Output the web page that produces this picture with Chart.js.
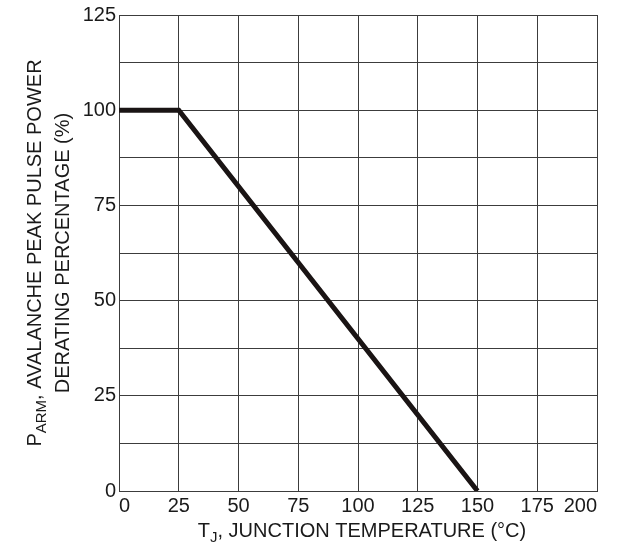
<!DOCTYPE html>
<html>
<head>
<meta charset="utf-8">
<script src="https://cdn.jsdelivr.net/npm/chart.js@4"></script>
<style>
  html, body { margin: 0; padding: 0; background: #fff; }
  #wrap { width: 621px; height: 550px; }
</style>
</head>
<body>
<div id="wrap"><canvas id="derating" width="621" height="550"></canvas></div>
<script>
// Derating curve: junction temperature (°C) vs avalanche peak pulse power (%)
const tempX = [0, 25, 150];
const derating = [100, 100, 0];

const xTicks = [0, 25, 50, 75, 100, 125, 150, 175, 200];
const yLabels = [0, 25, 50, 75, 100, 125];

const FONT = 'Arial, "Liberation Sans", sans-serif';
const GRID = '#3c3c3c';

// draw a run of text pieces, some of them subscripted
function drawRuns(ctx, runs, x, y) {
  let total = 0;
  runs.forEach(r => {
    ctx.font = `${r.size}px ${FONT}`;
    r.w = ctx.measureText(r.text).width;
    total += r.w;
  });
  let cx = x - total / 2;
  runs.forEach(r => {
    ctx.font = `${r.size}px ${FONT}`;
    ctx.fillText(r.text, cx, y + (r.sub ? 5 : 0));
    cx += r.w;
  });
}

const axisTitles = {
  id: 'axisTitles',
  afterDraw(chart) {
    const { ctx, chartArea } = chart;
    ctx.save();
    ctx.fillStyle = '#1a1a1a';
    ctx.textBaseline = 'alphabetic';
    ctx.textAlign = 'left';

    const midX = (chartArea.left + chartArea.right) / 2;
    drawRuns(ctx, [
      { text: 'T', size: 20 },
      { text: 'J', size: 15, sub: true },
      { text: ', JUNCTION TEMPERATURE (°C)', size: 20 }
    ], midX + 4, 537);

    const midY = (chartArea.top + chartArea.bottom) / 2;
    ctx.translate(0, midY);
    ctx.rotate(-Math.PI / 2);
    drawRuns(ctx, [
      { text: 'P', size: 20 },
      { text: 'ARM', size: 15, sub: true },
      { text: ', AVALANCHE PEAK PULSE POWER', size: 20 }
    ], 0, 41);
    drawRuns(ctx, [
      { text: 'DERATING PERCENTAGE (%)', size: 20 }
    ], 0, 69);
    ctx.restore();
  }
};

new Chart(document.getElementById('derating'), {
  type: 'line',
  data: {
    datasets: [{
      data: tempX.map((t, i) => ({ x: t, y: derating[i] })),
      borderColor: '#1a1414',
      borderWidth: 5,
      pointRadius: 0,
      tension: 0,
      fill: false
    }]
  },
  options: {
    responsive: false,
    animation: false,
    layout: { padding: { top: 14, right: 24, left: 0, bottom: 0 } },
    plugins: { legend: { display: false }, tooltip: { enabled: false } },
    scales: {
      x: {
        type: 'linear',
        min: 0,
        max: 200,
        afterFit: (s) => { s.height = 59; },
        afterBuildTicks: (s) => { s.ticks = xTicks.map(v => ({ value: v })); },
        ticks: {
          color: '#1a1a1a',
          font: { family: FONT, size: 20 },
          padding: 3,
          align: 'inner',
          maxRotation: 0,
          autoSkip: false
        },
        grid: { color: GRID, lineWidth: 1, drawTicks: false },
        border: { color: GRID, width: 1 }
      },
      y: {
        type: 'linear',
        min: 0,
        max: 125,
        afterFit: (s) => { s.width = 119; },
        ticks: {
          stepSize: 12.5,
          color: '#1a1a1a',
          font: { family: FONT, size: 20 },
          padding: 3,
          callback: (v) => yLabels.includes(v) ? String(v) : ''
        },
        grid: { color: GRID, lineWidth: 1, drawTicks: false },
        border: { color: GRID, width: 1 }
      }
    }
  },
  plugins: [axisTitles]
});
</script>
</body>
</html>
